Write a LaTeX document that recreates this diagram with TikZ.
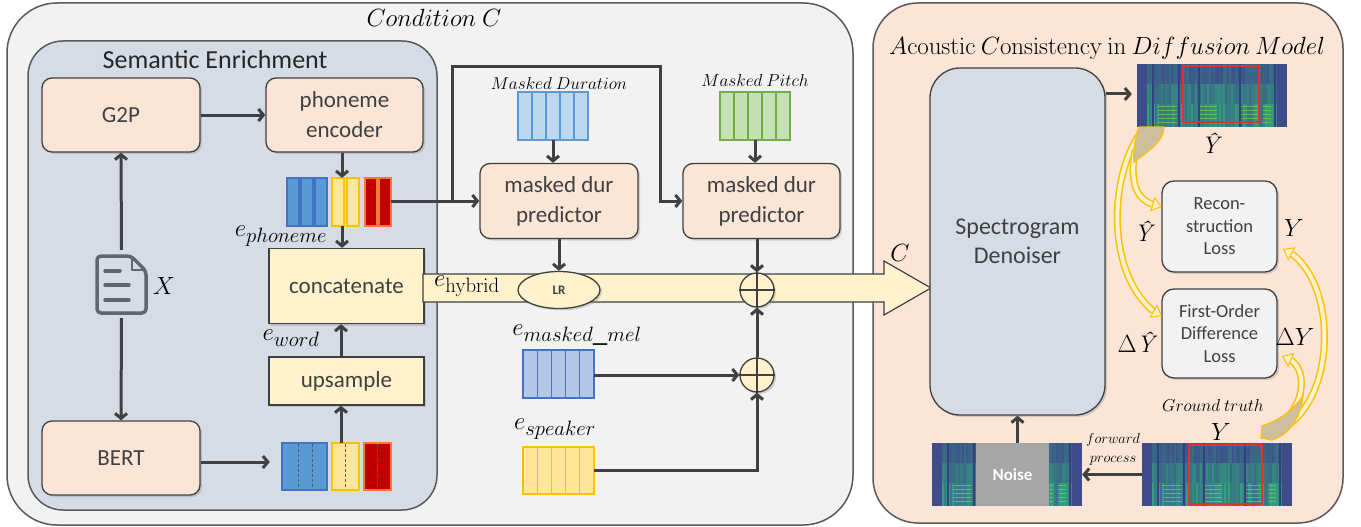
\documentclass[tikz,border=0pt]{standalone}
\usepackage[no-math]{fontspec}
\setmainfont{Carlito}
\newfontfamily\lmfam{Latin Modern Roman}
\usetikzlibrary{arrows.meta,shapes.geometric,shadows,calc}
\definecolor{panelgray}{HTML}{F2F2F2}
\definecolor{panelline}{HTML}{595959}
\definecolor{semblue}{HTML}{D6DCE5}
\definecolor{peach}{HTML}{FBE5D6}
\definecolor{creamy}{HTML}{FFF2CC}
\definecolor{darkline}{HTML}{404040}
\definecolor{txtgray}{HTML}{404040}
\definecolor{barblue}{HTML}{5B9BD5}
\definecolor{bordblue}{HTML}{4472C4}
\definecolor{baryellow}{HTML}{FFE699}
\definecolor{bordyellow}{HTML}{FFC000}
\definecolor{barred}{HTML}{C00000}
\definecolor{bordred}{HTML}{ED7D31}
\definecolor{durfill}{HTML}{BDD7EE}
\definecolor{durbord}{HTML}{5B9BD5}
\definecolor{pitchfill}{HTML}{C5E0B4}
\definecolor{pitchbord}{HTML}{70AD47}
\definecolor{melfill}{HTML}{B4C7E7}
\definecolor{melbord}{HTML}{4472C4}
\definecolor{lossfill}{HTML}{F2F2F2}
\definecolor{gold}{HTML}{FFC000}
\definecolor{khaki}{HTML}{CDBF9E}
\definecolor{noisegray}{HTML}{A6A6A6}
\definecolor{iconcol}{HTML}{5F6670}
\definecolor{redbox}{HTML}{E8302A}
\definecolor{specbase}{HTML}{3E4C8A}
\definecolor{specgreen}{HTML}{2FB47C}
\definecolor{spechar}{HTML}{9AD94A}
\definecolor{specdark}{HTML}{35407E}
\newcommand\setfs[2]{\fontsize{#1}{#2}\selectfont}
\newcommand\yhat{{\lmfam\itshape Ŷ}}
\tikzset{
  panel/.style={draw=panelline, line width=1.5pt},
  box/.style={draw=darkline, line width=1.3pt, rounded corners=10pt, fill=peach, text=txtgray,
    font=\setfs{23}{30}, align=center, inner sep=0pt,
    drop shadow={shadow xshift=2pt, shadow yshift=-2pt, opacity=0.3}},
  ybox/.style={box, rounded corners=0pt, fill=creamy},
  lossbox/.style={box, rounded corners=12pt, fill=lossfill, font=\setfs{18.5}{22.5}},
  arr/.style={draw=darkline, line width=3pt, -{Straight Barb[length=5pt,width=12pt]}},
  mathlbl/.style={inner sep=0pt, font=\setfs{24}{26}},
  elbl/.style={inner sep=0pt, font=\setfs{29}{31}},
  plusc/.style={circle, draw=darkline, line width=1.3pt, fill=creamy, minimum size=34pt, inner sep=0pt,
    drop shadow={shadow xshift=2pt, shadow yshift=-2pt, opacity=0.3}},
  grp/.style={inner sep=0pt, draw=none},
  icon/.style={draw=iconcol, line width=3.5pt, line join=round},
  ybandO/.style={draw=gold, line width=7pt},
  ybandI/.style={draw=creamy, line width=4pt},
  ytip/.style={draw=gold, line width=1pt, -{Triangle[length=10pt,width=15pt,fill=creamy]}},
  spec/.pic={
    \pgfmathsetseed{11}
    \fill[specbase] (0,0) rectangle (150,63);
    \foreach \i in {0,...,74}{%
      \pgfmathtruncatemacro\va{(\i>4)*(\i<70)*(8+25*rnd)}%
      \pgfmathtruncatemacro\vb{(\i>4)*(\i<70)*(25+40*rnd)}%
      \pgfmathtruncatemacro\vc{(\i>4)*(\i<70)*(35+50*rnd)}%
      \fill[specgreen!\va!specbase] (2*\i,0) rectangle (2*\i+2.2,20);
      \fill[specgreen!\vb!specbase] (2*\i,20) rectangle (2*\i+2.2,40);
      \fill[specgreen!\vc!specbase] (2*\i,40) rectangle (2*\i+2.2,63);
    }
    \foreach \a in {15,41,61,102,137}{\fill[specdark] (\a,0) rectangle (\a+2,63);}
    \foreach \a/\b in {21/40,63/80,104/121,126/134}{\foreach \yy in {42,46,50,54,58}{\draw[spechar, line width=.9pt, opacity=.55] (\a,\yy) -- (\b,\yy);}}
  }
}
\begin{document}
\begin{tikzpicture}[x=1pt,y=-1pt]
\useasboundingbox (0,0) rectangle (1361,527);
\fill[white] (0,0) rectangle (1361,527);

% panels
\draw[panel, fill=panelgray, rounded corners=50pt] (7,3) rectangle (853,525);
\draw[panel, fill=semblue, rounded corners=35pt] (28,41) rectangle (437,510);
\draw[panel, fill=peach, rounded corners=45pt] (873,3) rectangle (1343,523);

% titles
\node[inner sep=0pt, font=\setfs{26}{28}] (tcond) at (434,18) {$Condition\ C$};
\node[inner sep=0pt, font=\setfs{26}{28}, text=black!85] (tsem) at (215,60) {Semantic Enrichment};
\node[inner sep=0pt, font=\setfs{23}{25}] (tacou) at (1107,48) {$A\mathrm{coustic}\ C\mathrm{onsistency\ in}\ Diffusion\ Model$};

% boxes
\node[box, minimum width=158pt, minimum height=74pt] (g2p) at (121,115) {G2P};
\node[box, minimum width=157pt, minimum height=74pt] (phenc) at (344.5,115) {phoneme\\encoder};
\node[box, minimum width=158pt, minimum height=74pt] (bert) at (121,458) {BERT};
\node[ybox, minimum width=155pt, minimum height=75pt] (concat) at (346.5,286) {concatenate};
\node[ybox, minimum width=155pt, minimum height=48pt] (ups) at (346.5,381) {upsample};
\node[box, minimum width=158pt, minimum height=75pt] (md1) at (559,201) {masked dur\\predictor};
\node[box, minimum width=157pt, minimum height=75pt] (md2) at (761.5,201) {masked dur\\predictor};

% phoneme bars
\node[grp, minimum width=104pt, minimum height=48pt] (pbars) at (339,202) {};
\foreach \a in {287,301,315}{\draw[fill=barblue, draw=bordblue, line width=1.3pt] (\a,178) rectangle (\a+12,226);}
\foreach \a in {332,347}{\draw[fill=baryellow, draw=bordyellow, line width=1.3pt] (\a,178) rectangle (\a+12,226);}
\foreach \a in {365,379}{\draw[fill=barred, draw=bordred, line width=1.3pt] (\a,178) rectangle (\a+12,226);}

% word bars
\node[grp, minimum width=109pt, minimum height=47pt] (wbars) at (336.5,466.5) {};
\draw[fill=barblue, draw=bordblue, line width=1.3pt] (282,443) rectangle (327,490);
\draw[fill=baryellow, draw=bordyellow, line width=1.3pt] (332,443) rectangle (359,490);
\draw[fill=barred, draw=bordred, line width=1.3pt] (364,443) rectangle (391,490);
\foreach \a in {298,312,345,377}{\draw[panelline, line width=0.9pt, dash pattern=on 3pt off 2pt] (\a,444) -- (\a,489);}

% masked duration / pitch bars
\node[grp, minimum width=70pt, minimum height=48pt] (dbars) at (553,116) {};
\foreach \i in {0,...,4}{\draw[fill=durfill, draw=durbord, line width=1.3pt] (518+14*\i,92) rectangle (532+14*\i,140);}
\node[grp, minimum width=70pt, minimum height=48pt] (tbars) at (755,116) {};
\foreach \i in {0,...,4}{\draw[fill=pitchfill, draw=pitchbord, line width=1.3pt] (720+14*\i,92) rectangle (734+14*\i,140);}
\node[inner sep=0pt, font=\setfs{18}{20}] (tdur) at (559,83) {$Masked\ Duration$};
\node[inner sep=0pt, font=\setfs{18}{20}] (tpit) at (755,81) {$Masked\ Pitch$};

% mel / speaker bars
\node[grp, minimum width=71pt, minimum height=48pt] (mbars) at (558.5,374) {};
\foreach \i in {0,...,4}{\draw[fill=melfill, draw=melbord, line width=1.3pt] (523+14.2*\i,350) rectangle (537.2+14.2*\i,398);}
\node[grp, minimum width=71pt, minimum height=47pt] (sbars) at (558.5,470.5) {};
\foreach \i in {0,...,4}{\draw[fill=baryellow, draw=bordyellow, line width=1.3pt] (523+14.2*\i,447) rectangle (537.2+14.2*\i,494);}

% document icon
\node[grp, minimum width=53pt, minimum height=61pt] (doc) at (121.5,284.5) {};
\draw[icon, rounded corners=4pt] (131,256) -- (97,256) -- (97,313) -- (146,313) -- (146,271) -- cycle;
\draw[icon, line width=2.5pt] (132,258) -- (132,270) -- (144,270);
\draw[icon, line cap=round] (105,271) -- (120,271) (105,285) -- (129,285) (105,300) -- (129,300);
\node[mathlbl, font=\setfs{26}{28}] (xlbl) at (164,286) {$X$};

% big hybrid arrow
\filldraw[fill=creamy, draw=darkline, line width=1.2pt] (423,274) -- (884,274) -- (884,261) -- (931,288) -- (884,315) -- (884,302) -- (423,302) -- cycle;
\node[ellipse, draw=darkline, line width=1.3pt, fill=creamy, minimum width=82pt, minimum height=37pt, inner sep=0pt,
  font=\bfseries\setfs{13}{14}, text=txtgray, drop shadow={shadow xshift=2pt, shadow yshift=-2pt, opacity=0.3}] (lr) at (559,290) {LR};
\node[plusc] (plus1) at (757,290) {};
\draw[darkline, line width=1.3pt] (plus1.north) -- (plus1.south) (plus1.west) -- (plus1.east);
\node[plusc] (plus2) at (757,375) {};
\draw[darkline, line width=1.3pt] (plus2.north) -- (plus2.south) (plus2.west) -- (plus2.east);
\node[elbl] (ehy) at (467,286) {$e_{\mathrm{hybrid}}$};
\node[mathlbl, font=\setfs{27}{29}] (clbl) at (900,253) {$C$};

% labels
\node[elbl] (eph) at (281,236) {$e_{phoneme}$};
\node[elbl] (ewd) at (291,338) {$e_{word}$};
\node[elbl] (emel) at (577,335) {$e_{masked\_mel}$};
\node[elbl] (espk) at (555,429) {$e_{speaker}$};

% left arrows
\coordinate (colA) at (342,0);
\coordinate (colW) at (341,0);
\coordinate (rowB) at (0,462);
\coordinate (brx) at (452,67);
\coordinate (bry) at (660,67);
\draw[arr] ($(doc.north)+(0,-4)$) -- (g2p.south);
\draw[arr] ($(doc.south)+(0,3)$) -- (bert.north);
\draw[arr] (g2p) -- (phenc);
\draw[arr] (phenc.south -| colA) -- (pbars.north -| colA);
\draw[arr] (pbars.south -| colA) -- (concat.north -| colA);
\draw[arr, shorten >=12pt] (bert.east |- rowB) -- (wbars.west |- rowB);
\draw[arr] (wbars.north -| colW) -- (ups.south -| colW);
\draw[arr] (ups.north -| colW) -- (concat.south -| colW);
\draw[arr] (pbars.east |- md1.west) -- (md1.west);
\draw[arr] (brx |- md1.west) -- (brx) -- (bry) |- (md2.west);
\draw[arr] (dbars.south) -- (dbars.south |- md1.north);
\draw[arr] (tbars.south) -- (tbars.south |- md2.north);
\draw[arr] (md1.south) -- (lr.north);
\draw[arr] (plus1.north |- md2.south) -- (plus1.north);
\draw[arr] (mbars.east |- plus2.west) -- (plus2.west);
\draw[arr] (sbars.east) -| (plus2.south);
\draw[arr] (plus2.north) -- (plus1.south);

% right panel
\node[box, fill=semblue, rounded corners=30pt, minimum width=175pt, minimum height=347pt, font=\setfs{24}{29}] (den) at (1017.5,241.5) {Spectrogram\\Denoiser};
\node[lossbox, minimum width=115pt, minimum height=91pt] (recon) at (1219.5,226.5) {Recon-\\struction\\Loss};
\node[lossbox, minimum width=115pt, minimum height=89pt] (fod) at (1219.5,333.5) {First-Order\\Difference\\Loss};

\pic at (1137,64) {spec};
\node[grp, minimum width=150pt, minimum height=60pt] (specT) at (1212,94) {};
\draw[redbox, line width=2pt] (1183,66) rectangle (1259,122);
\pic at (1142,443) {spec};
\node[grp, minimum width=150pt, minimum height=63pt] (specG) at (1217,474.5) {};
\draw[redbox, line width=2pt] (1189,445) rectangle (1262,504);
\pic at (932,443) {spec};
\node[grp, minimum width=150pt, minimum height=63pt] (specN) at (1007,474.5) {};
\fill[noisegray] (976,443) rectangle (1049,506);
\node[inner sep=0pt, font=\bfseries\setfs{17}{18}, text=white] (noise) at (1012.5,475) {Noise};

\draw[arr, shorten >=5pt] (den.east |- specT.west) -- (specT.west);
\draw[arr] (specG.west) -- (specN.east);
\draw[arr] (den.south |- specN.north) -- (den.south);

\node[mathlbl] (yh1) at (1210,143) {\yhat};
\node[mathlbl] (yh2) at (1143,231) {\yhat};
\node[mathlbl] (y1) at (1294,228) {$Y$};
\node[mathlbl] (dyh) at (1136,342) {$\Delta$\yhat};
\node[mathlbl] (dy) at (1295,337) {$\Delta Y$};
\node[inner sep=0pt, font=\setfs{17}{19}] (gt) at (1213,405) {$Ground\ truth$};
\node[mathlbl] (y2) at (1221,432) {$Y$};
\node[inner sep=0pt, font=\setfs{15}{19}, align=center] (fwd) at (1113,449) {$forward$\\$process$};

% yellow curved arrows (top group)
\draw[ybandO] (1141,132) .. controls (1110,175) and (1105,270) .. (1153,311);
\draw[ybandI] (1141,132) .. controls (1110,175) and (1105,270) .. (1153,311);
\draw[ytip] (1153,311) -- (1162,316);
\draw[ybandO] (1135,150) .. controls (1130,180) and (1135,198) .. (1152,204);
\draw[ybandI] (1135,150) .. controls (1130,180) and (1135,198) .. (1152,204);
\draw[ytip] (1152,204) -- (1162,207);
\filldraw[fill=khaki, draw=gold, line width=1.2pt] (1139,127) -- (1164,127) .. controls (1163,142) and (1150,150) .. (1134,162) .. controls (1133,150) and (1135,138) .. cycle;

% yellow curved arrows (right group)
\draw[ybandO] (1275,432) .. controls (1335,410) and (1340,290) .. (1292,254);
\draw[ybandI] (1275,432) .. controls (1335,410) and (1340,290) .. (1292,254);
\draw[ytip] (1292,254) -- (1283,249);
\draw[ybandO] (1290,415) .. controls (1305,395) and (1305,370) .. (1291,360);
\draw[ybandI] (1290,415) .. controls (1305,395) and (1305,370) .. (1291,360);
\draw[ytip] (1291,360) -- (1282,356);
\filldraw[fill=khaki, draw=gold, line width=1.2pt] (1261,438) -- (1262,426) .. controls (1280,420) and (1293,410) .. (1303,396) .. controls (1300,420) and (1288,435) .. (1272,440) -- cycle;
\end{tikzpicture}
\end{document}
